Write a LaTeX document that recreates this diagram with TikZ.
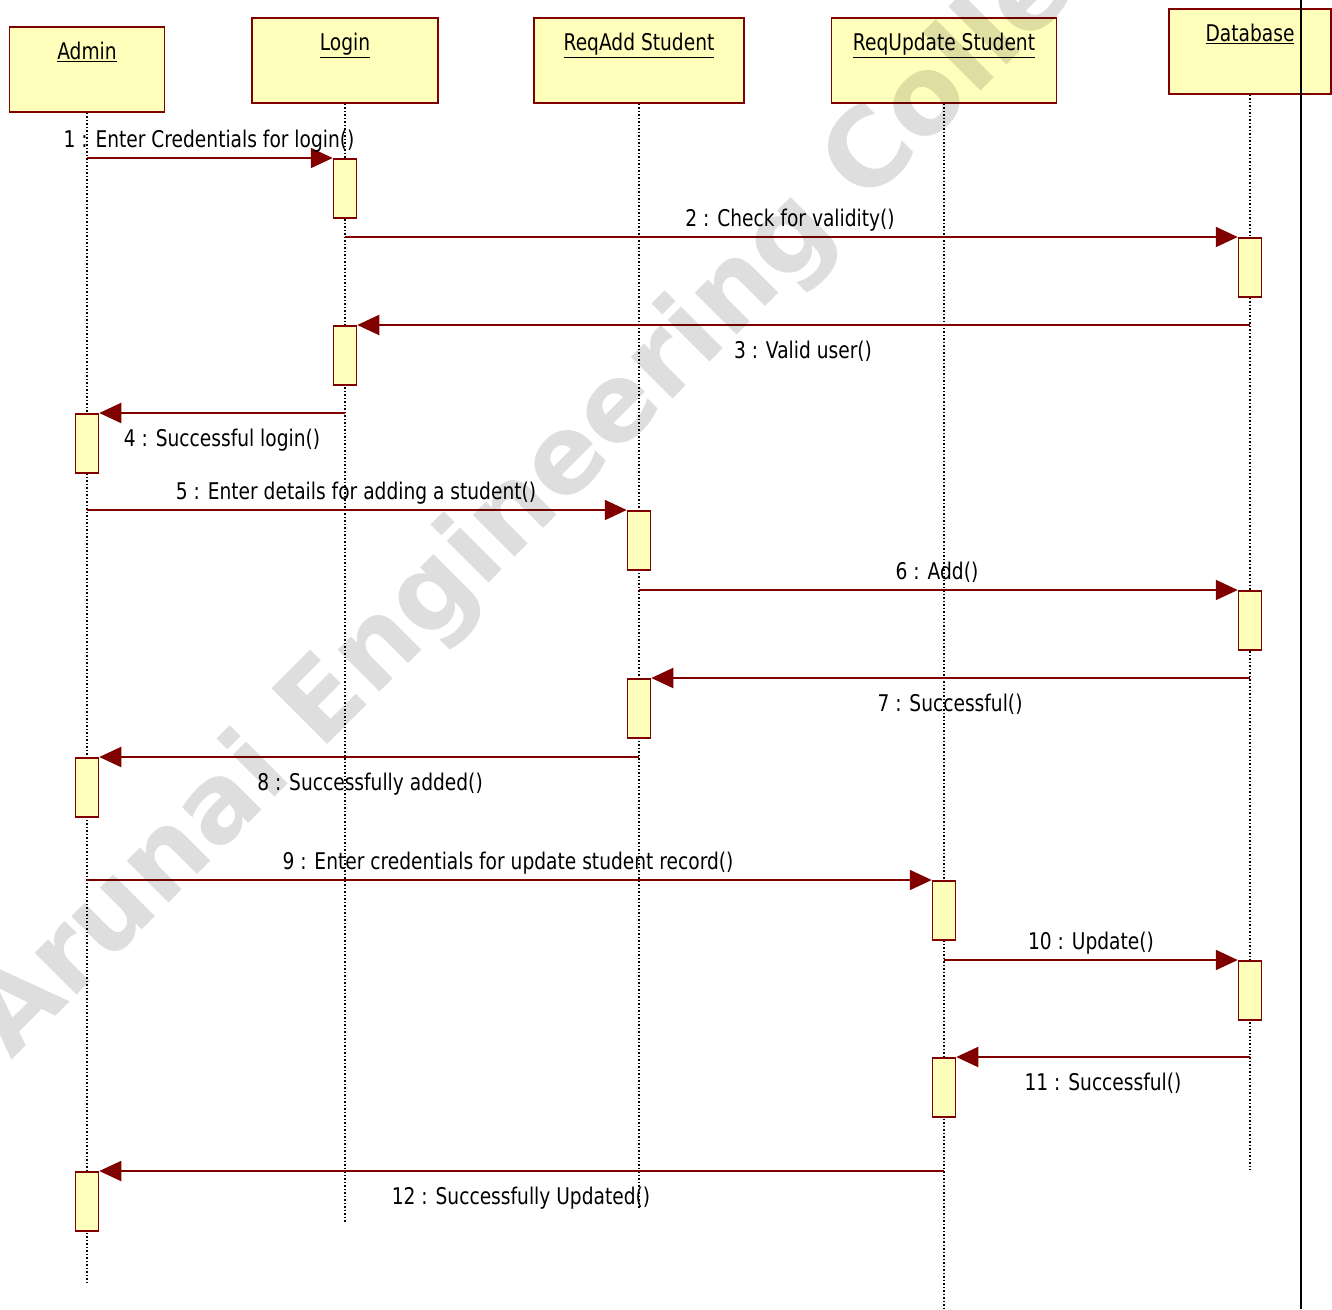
\documentclass[tikz,border=0pt]{standalone}
\usepackage{fontspec}
\setmainfont{DejaVu Sans}[FakeStretch=0.81]
\newfontfamily\wmfont{DejaVu Sans}
\usetikzlibrary{arrows.meta}
\definecolor{umlred}{RGB}{128,0,0}
\definecolor{umlfill}{RGB}{255,255,187}

\begin{document}
\begin{tikzpicture}[x=1pt, y=-1pt]
	\tikzstyle{every node} = [inner sep=0pt, font=\fontsize{23}{28}\selectfont]
	\tikzstyle{object}     = [rectangle, draw=umlred, fill=umlfill, line width=1.5pt, anchor=north, text height=33pt, text depth=52pt]
	\tikzstyle{act}        = [rectangle, draw=umlred, fill=umlfill, line width=1.5pt, anchor=north, minimum width=23pt, minimum height=59pt]
	\tikzstyle{lifeline}   = [dotted, line width=1.5pt]
	\tikzstyle{msg}        = [draw=umlred, line width=2pt, -{Triangle[length=22pt,width=20pt]}]
	\tikzstyle{lbl}        = [anchor=base]
	\useasboundingbox (0,0) rectangle (1332,1309);
	\clip (0,0) rectangle (1332,1309);
	\fill[white] (0,0) rectangle (1332,1309);
	% objects
	\node[object, minimum width=155pt] (admin)  at (87,26)   {\underline{Admin}};
	\node[object, minimum width=186pt] (login)  at (345,17)  {\underline{Login}};
	\node[object, minimum width=210pt] (reqadd) at (639,17)  {\underline{ReqAdd Student}};
	\node[object, minimum width=225pt] (requpd) at (944,17)  {\underline{ReqUpdate Student}};
	\node[object, minimum width=162pt] (db)     at (1250,8)  {\underline{Database}};
	\coordinate (adminend)  at (87,1285);
	\coordinate (loginend)  at (345,1222);
	\coordinate (reqaddend) at (639,1208);
	\coordinate (requpdend) at (944,1309);
	\coordinate (dbend)     at (1250,1170);
	\draw[lifeline] (admin)  -- (adminend);
	\draw[lifeline] (login)  -- (loginend);
	\draw[lifeline] (reqadd) -- (reqaddend);
	\draw[lifeline] (requpd) -- (requpdend);
	\draw[lifeline] (db)     -- (dbend);
	\node[object, minimum width=155pt] at (87,26)   {\underline{Admin}};
	\node[object, minimum width=186pt] at (345,17)  {\underline{Login}};
	\node[object, minimum width=210pt] at (639,17)  {\underline{ReqAdd Student}};
	\node[object, minimum width=225pt] at (944,17)  {\underline{ReqUpdate Student}};
	\node[object, minimum width=162pt] at (1250,8)  {\underline{Database}};
	% activations
	\node[act] (l1) at (345,158)  {};
	\node[act] (d1) at (1250,237) {};
	\node[act] (l2) at (345,325)  {};
	\node[act] (a1) at (87,413)   {};
	\node[act] (r1) at (639,510)  {};
	\node[act] (d2) at (1250,590) {};
	\node[act] (r2) at (639,678)  {};
	\node[act] (a2) at (87,757)   {};
	\node[act] (u1) at (944,880)  {};
	\node[act] (d3) at (1250,960) {};
	\node[act] (u2) at (944,1057) {};
	\node[act] (a3) at (87,1171)  {};
	% messages
	\draw[msg] (admin |- l1.north)  -- (l1.north west);
	\draw[msg] (login |- d1.north)  -- (d1.north west);
	\draw[msg] (db |- l2.north)     -- (l2.north east);
	\draw[msg] (login |- a1.north)  -- (a1.north east);
	\draw[msg] (admin |- r1.north)  -- (r1.north west);
	\draw[msg] (reqadd |- d2.north) -- (d2.north west);
	\draw[msg] (db |- r2.north)     -- (r2.north east);
	\draw[msg] (reqadd |- a2.north) -- (a2.north east);
	\draw[msg] (admin |- u1.north)  -- (u1.north west);
	\draw[msg] (requpd |- d3.north) -- (d3.north west);
	\draw[msg] (db |- u2.north)     -- (u2.north east);
	\draw[msg] (requpd |- a3.north) -- (a3.north east);
	\node[lbl] (m1)  at (209,147)  {1 : Enter Credentials for login()};
	\node[lbl] (m2)  at (790,226)  {2 : Check for validity()};
	\node[lbl] (m3)  at (803,358)  {3 : Valid user()};
	\node[lbl] (m4)  at (222,446)  {4 : Successful login()};
	\node[lbl] (m5)  at (356,499)  {5 : Enter details for adding a student()};
	\node[lbl] (m6)  at (937,579)  {6 : Add()};
	\node[lbl] (m7)  at (950,711)  {7 : Successful()};
	\node[lbl] (m8)  at (370,790)  {8 : Successfully added()};
	\node[lbl] (m9)  at (508,869)  {9 : Enter credentials for update student record()};
	\node[lbl] (m10) at (1091,949) {10 : Update()};
	\node[lbl] (m11) at (1103,1090) {11 : Successful()};
	\node[lbl] (m12) at (521,1204) {12 : Successfully Updated()};
	% page edge
	\draw[line width=2pt] (1301,0) -- (1301,1309);
	% watermark
	\node[rotate=45, anchor=base west, text=black, text opacity=0.13, font=\wmfont\bfseries\fontsize{108}{108}\selectfont] (wm) at (11,1061) {Arunai Engineering College};
\end{tikzpicture}
\end{document}
